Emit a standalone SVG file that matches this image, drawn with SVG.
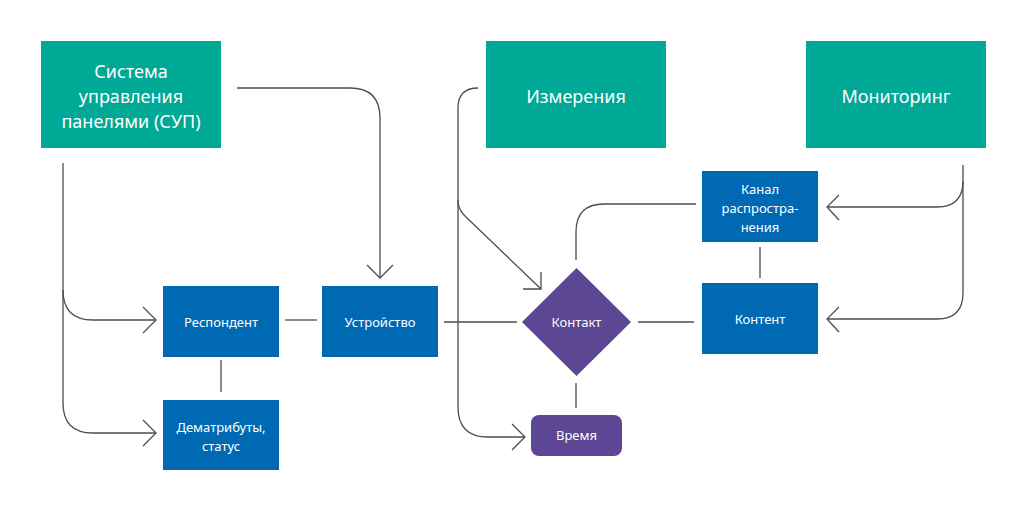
<svg xmlns="http://www.w3.org/2000/svg" width="1024" height="512" viewBox="0 0 1024 512">
<defs>
<style>
.teal{fill:#00a896}
.blue{fill:#0069b4}
.purple{fill:#5d4693}
.big{font-family:"Noto Sans","Open Sans",sans-serif;font-size:18px;fill:#fff;text-anchor:middle}
.small{font-family:"Noto Sans","Open Sans",sans-serif;font-size:13px;fill:#fff;text-anchor:middle}
.ln{fill:none;stroke:#4d4d4d;stroke-width:1.3}
</style>
</defs>
<rect width="1024" height="512" fill="#fff"/>
<g id="connectors" class="ln">
<!-- SUP left trunk -->
<path d="M63 163 V290 Q63 320 93 320 H156"/>
<path d="M143 307 L156 320 L143 333"/>
<path d="M63 290 V403 Q63 433 93 433 H156"/>
<path d="M143 420 L156 433 L143 446"/>
<!-- SUP right to device -->
<path d="M237 88 H350 Q380 88 380 118 V278"/>
<path d="M367 265 L380 278 L393 265"/>
<path d="M285 320 H317"/>
<path d="M221 360 V392"/>
<path d="M444 322 H517"/>
<!-- Izmereniya -->
<path d="M478 88 Q458 88 458 108 V200 Q458 210 466 217 L541 289"/>
<path d="M523 289 H541 V272"/>
<path d="M458 200 V407 Q458 437 488 437 H525"/>
<path d="M512 424 L525 437 L512 450"/>
<!-- Kontakt links -->
<path d="M576 260 V232 Q576 204 604 204 H696"/>
<path d="M576 383 V408"/>
<path d="M638 322 H694"/>
<path d="M760 247 V278"/>
<!-- Monitoring -->
<path d="M963 165 V181 Q963 207 937 207 H827"/>
<path d="M839 195 L827 207 L839 220"/>
<path d="M963 181 V293 Q963 319 937 319 H827"/>
<path d="M839 307 L827 319 L839 332"/>
</g>
<g id="sup">
<rect class="teal" x="41" y="41" width="180" height="107"/>
<text class="big" x="131" y="78">Система</text>
<text class="big" x="131" y="103">управления</text>
<text class="big" x="131" y="128">панелями (СУП)</text>
</g>
<g id="izmereniya">
<rect class="teal" x="486" y="41" width="180" height="107"/>
<text class="big" x="576" y="103">Измерения</text>
</g>
<g id="monitoring">
<rect class="teal" x="806" y="41" width="180" height="107"/>
<text class="big" x="896" y="103">Мониторинг</text>
</g>
<g id="respondent">
<rect class="blue" x="163" y="286" width="116" height="71"/>
<text class="small" x="221" y="327">Респондент</text>
</g>
<g id="device">
<rect class="blue" x="322" y="286" width="116" height="71"/>
<text class="small" x="380" y="327">Устройство</text>
</g>
<g id="demattr">
<rect class="blue" x="163" y="400" width="116" height="70"/>
<text class="small" x="221" y="432">Дематрибуты,</text>
<text class="small" x="221" y="451">статус</text>
</g>
<g id="kanal">
<rect class="blue" x="702" y="171" width="116" height="71"/>
<text class="small" x="760" y="194">Канал</text>
<text class="small" x="760" y="213">распростра-</text>
<text class="small" x="760" y="232">нения</text>
</g>
<g id="kontent">
<rect class="blue" x="702" y="283" width="116" height="71"/>
<text class="small" x="760" y="324">Контент</text>
</g>
<g id="kontakt">
<polygon class="purple" points="576.5,268 631,322 576.5,376 522,322"/>
<text class="small" x="576.5" y="327">Контакт</text>
</g>
<g id="vremya">
<rect class="purple" x="531" y="415" width="91" height="41" rx="8"/>
<text class="small" x="576.5" y="440">Время</text>
</g>
</svg>
